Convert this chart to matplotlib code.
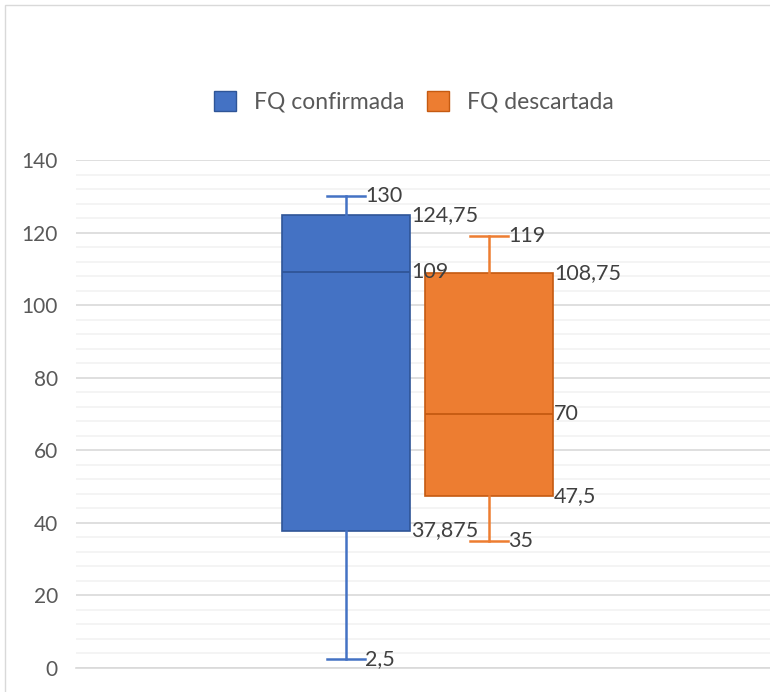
import matplotlib.pyplot as plt
from matplotlib.patches import Patch, Rectangle
from matplotlib.ticker import MultipleLocator

plt.rcParams['font.family'] = ['Lato', 'DejaVu Sans']

series = ["FQ confirmada", "FQ descartada"]
whislo = [2.5, 35]
q1 = [37.875, 47.5]
med = [109, 70]
q3 = [124.75, 108.75]
whishi = [130, 119]
fills = ["#4472C4", "#ED7D31"]
edges = ["#2F5597", "#C55A11"]
labels = [["2,5", "37,875", "109", "124,75", "130"],
          ["35", "47,5", "70", "108,75", "119"]]

fig = plt.figure(figsize=(7.7, 6.92), dpi=100)
ax = fig.add_axes([76 / 770, 24 / 692, 1 - 76 / 770, 508 / 692])

positions = [1, 2]
box_w = 0.9
cap_w = 0.26
for i in range(2):
    stats = [dict(whislo=whislo[i], q1=q1[i], med=med[i], q3=q3[i],
                  whishi=whishi[i], fliers=[])]
    ax.bxp(stats, positions=[positions[i]], widths=box_w, capwidths=cap_w,
           patch_artist=True, showfliers=False,
           boxprops=dict(facecolor=fills[i], edgecolor=edges[i], linewidth=1.2),
           medianprops=dict(color=edges[i], linewidth=1.3),
           whiskerprops=dict(color=fills[i], linewidth=1.8),
           capprops=dict(color=fills[i], linewidth=1.8))
    vals = [whislo[i], q1[i], med[i], q3[i], whishi[i]]
    xs = [positions[i] + cap_w / 2, positions[i] + box_w / 2,
          positions[i] + box_w / 2, positions[i] + box_w / 2,
          positions[i] + cap_w / 2]
    for v, x, t in zip(vals, xs, labels[i]):
        ax.annotate(t, xy=(x, v), xytext=(0.5, 0), textcoords="offset points",
                    ha="left", va="center", fontsize=15.5, color="#404040")

ax.set_xlim(1 - 270 / 143, 2 + 281 / 143)
ax.set_ylim(0, 140)
ax.yaxis.set_major_locator(MultipleLocator(20))
ax.yaxis.set_minor_locator(MultipleLocator(4))
ax.grid(axis="y", which="major", color="#D9D9D9", linewidth=1.2)
ax.grid(axis="y", which="minor", color="#F2F2F2", linewidth=1.2)
ax.set_axisbelow(True)
ax.set_xticks([])
ax.tick_params(axis="y", which="both", length=0, pad=13, labelsize=15,
               labelcolor="#595959")
for s in ["top", "right", "left"]:
    ax.spines[s].set_visible(False)
ax.spines["bottom"].set_color("#D9D9D9")
ax.spines["bottom"].set_linewidth(1.2)

handles = [Patch(facecolor=fills[i], edgecolor=edges[i], label=series[i])
           for i in range(2)]
fig.legend(handles=handles, loc="center", bbox_to_anchor=(414 / 770, 1 - 102 / 692),
           ncol=2, frameon=False, fontsize=16.5, handlelength=0.95, handleheight=0.95,
           handletextpad=0.8, columnspacing=1.0, labelcolor="#595959")

fig.add_artist(Rectangle((5 / 770, -0.1), 1.2, 1.1 - 5 / 692, transform=fig.transFigure,
                         fill=False, edgecolor="#D9D9D9", linewidth=1))

fig.savefig("out.png", dpi=100)
